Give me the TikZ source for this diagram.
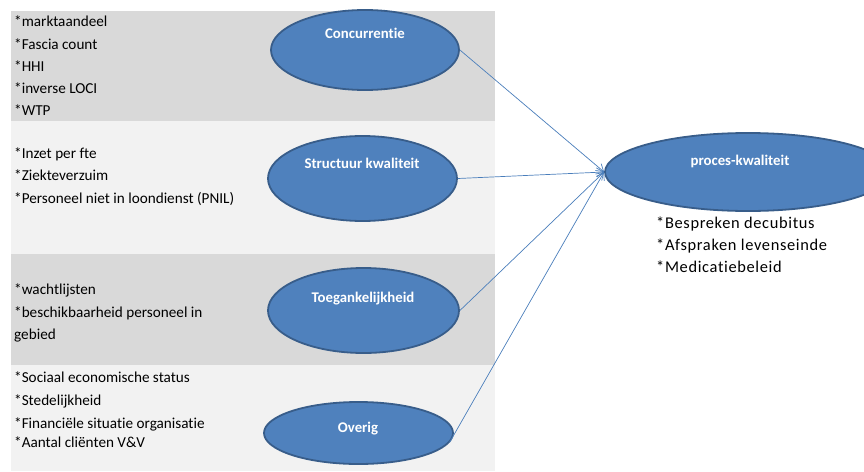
\documentclass[tikz,border=0pt]{standalone}
\usepackage{fontspec}
\setmainfont[Ligatures=NoCommon]{Carlito}
\newfontfamily\widefont[Ligatures=NoCommon,LetterSpace=4]{Carlito}
\usetikzlibrary{shapes.geometric,arrows.meta}

\definecolor{bandgray}{HTML}{D9D9D9}
\definecolor{bandlight}{HTML}{F2F2F2}
\definecolor{ovalfill}{HTML}{4F81BD}
\definecolor{ovaledge}{HTML}{385D8A}
\definecolor{linkblue}{HTML}{4A7EBB}

\tikzset{
  oval/.style={ellipse, draw=ovaledge, fill=ovalfill, line width=1.8pt, inner sep=0pt},
  ovaltext/.style={anchor=base, text=white, font=\fontsize{14.8}{17}\selectfont\bfseries, inner sep=0pt},
  item/.style={anchor=base west, font=\fontsize{15.2}{18}\selectfont, inner sep=0pt},
  outitem/.style={anchor=base west, font=\widefont\fontsize{16.4}{20}\selectfont, inner sep=0pt},
  link/.style={draw=linkblue, line width=0.7pt, -{Straight Barb[length=7pt,width=9pt]}}
}

\begin{document}
\begin{tikzpicture}[x=1pt,y=-1pt]
\useasboundingbox (0,0) rectangle (864,471);
\clip (0,0) rectangle (864,471);

% background bands
\fill[bandgray]  (11,11)  rectangle (495,121);
\fill[bandlight] (11,121) rectangle (495,254);
\fill[bandgray]  (11,254) rectangle (495,365);
\fill[bandlight] (11,365) rectangle (495,471);

% band 1
\node[item] (c1) at (14,27)  {*marktaandeel};
\node[item] (c2) at (14,49)  {*Fascia count};
\node[item] (c3) at (14,71)  {*HHI};
\node[item] (c4) at (14,93)  {*inverse LOCI};
\node[item] (c5) at (14,115) {*WTP};

% band 2
\node[item] (s1) at (14,158) {*Inzet per fte};
\node[item] (s2) at (14,180) {*Ziekteverzuim};
\node[item] (s3) at (14,203) {*Personeel niet in loondienst (PNIL)};

% band 3
\node[item] (t1) at (14,294) {*wachtlijsten};
\node[item] (t2) at (14,317) {*beschikbaarheid personeel in};
\node[item] (t3) at (14,339) {gebied};

% band 4
\node[item] (o1) at (14,382) {*Sociaal economische status};
\node[item] (o2) at (14,405) {*Stedelijkheid};
\node[item] (o3) at (14,428) {*Financiële situatie organisatie};
\node[item] (o4) at (14,447) {*Aantal cliënten V\&V};

% ovals
\node[oval, minimum width=188pt, minimum height=80pt] (conc) at (365,50)  {};
\node[oval, minimum width=189pt, minimum height=85pt] (struc) at (362.5,178.5) {};
\node[oval, minimum width=191pt, minimum height=85pt] (toeg) at (363.5,310.5) {};
\node[oval, minimum width=189pt, minimum height=62pt] (over) at (358.5,433) {};
\node[oval, minimum width=286pt, minimum height=78pt] (proc) at (748,172) {};

\node[ovaltext] (concT)  at (365,38)  {Concurrentie};
\node[ovaltext] (strucT) at (362,168) {Structuur kwaliteit};
\node[ovaltext] (toegT)  at (363,302) {Toegankelijkheid};
\node[ovaltext] (overT)  at (358,432) {Overig};
\node[ovaltext] (procT)  at (740,165) {proces-kwaliteit};

% outcome indicators
\node[outitem] (p1) at (656,228) {*Bespreken decubitus};
\node[outitem] (p2) at (656,250) {*Afspraken levenseinde};
\node[outitem] (p3) at (656,272) {*Medicatiebeleid};

% links
\draw[link] (conc.east)  -- (proc.west);
\draw[link] (struc.east) -- (proc.west);
\draw[link] (toeg.east)  -- (proc.west);
\draw[link] (over.-6)    -- (proc.west);
\end{tikzpicture}
\end{document}
